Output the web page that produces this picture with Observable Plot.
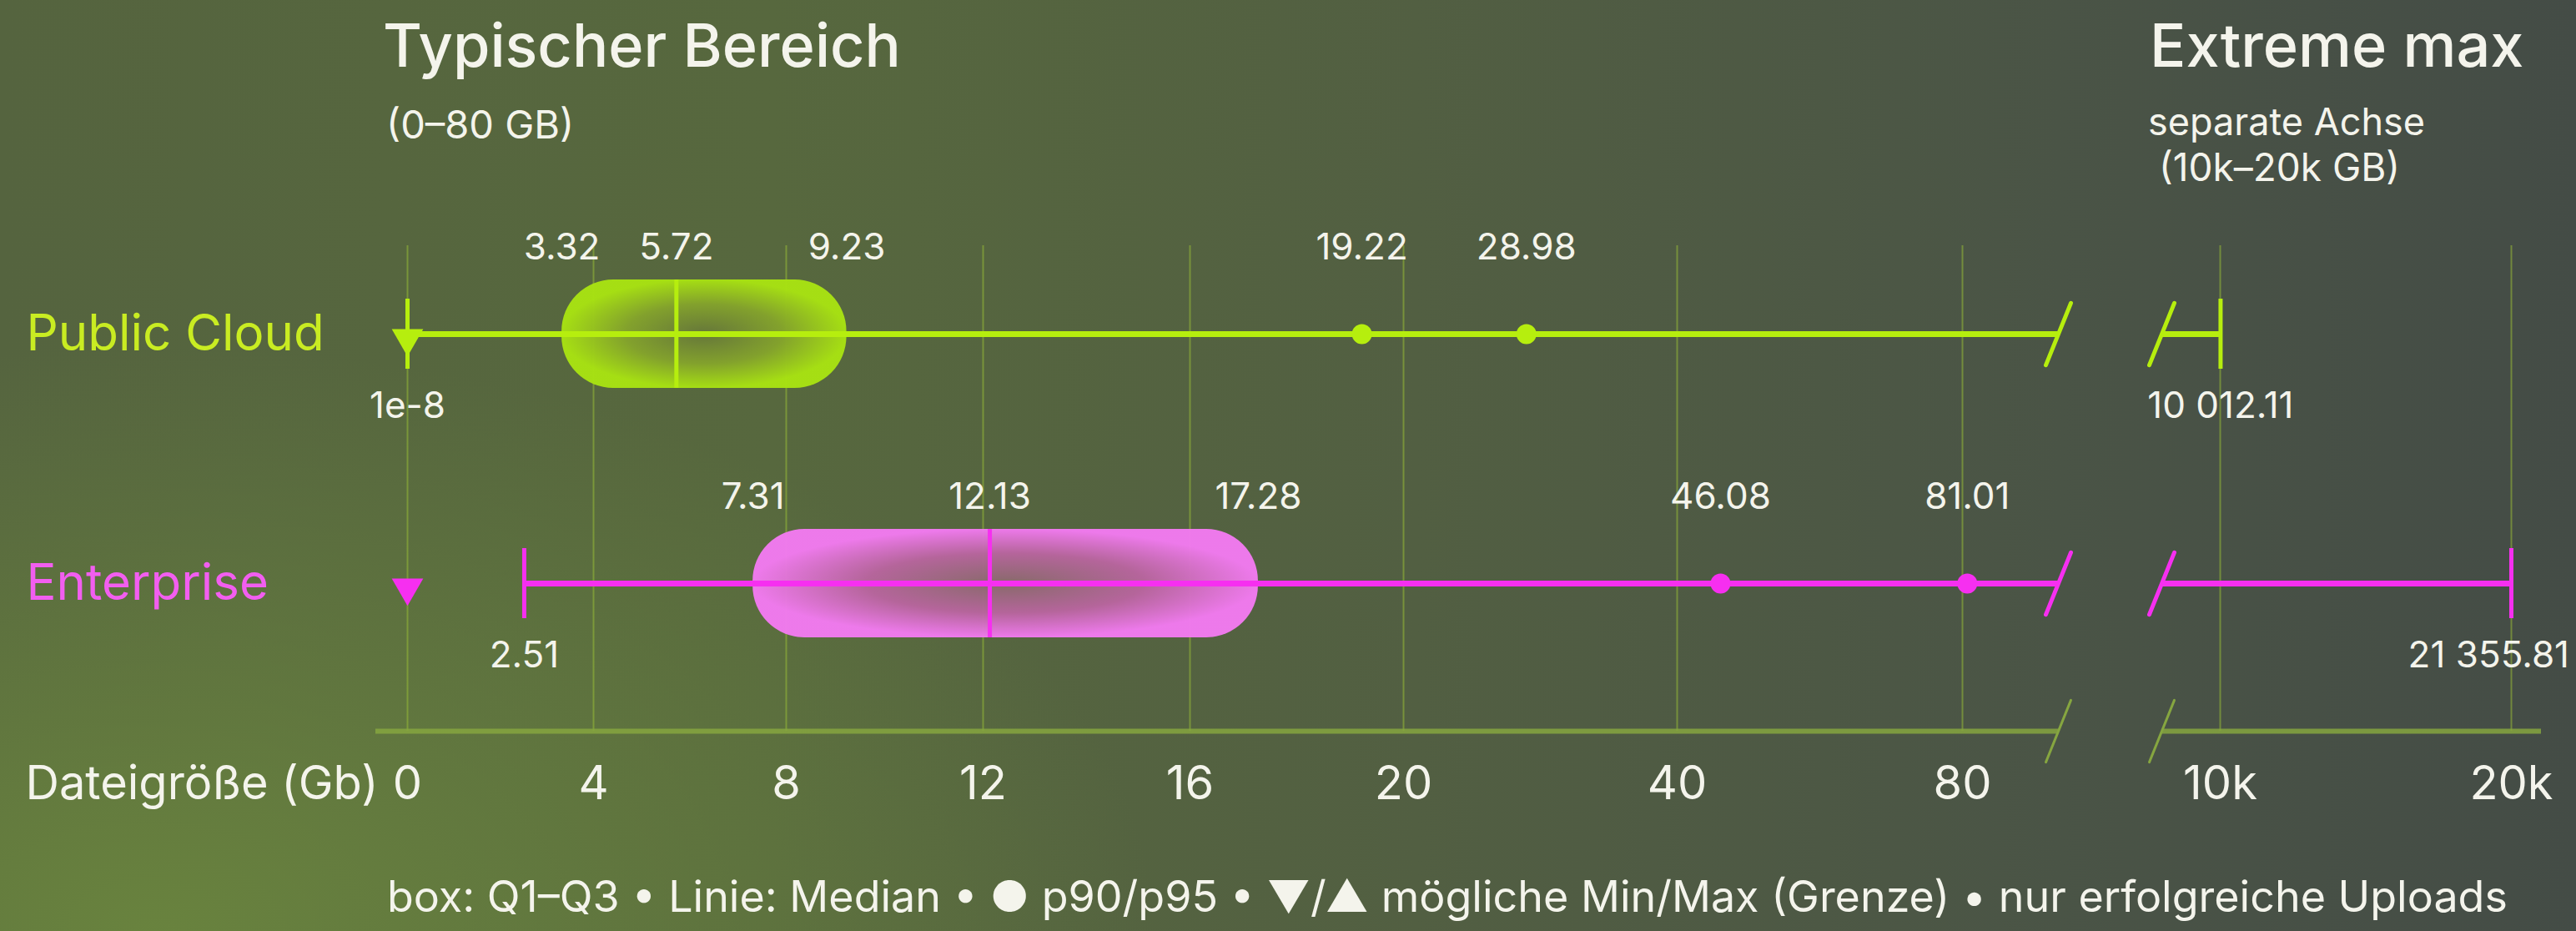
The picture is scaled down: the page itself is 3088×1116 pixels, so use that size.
<!DOCTYPE html>
<html>
<head>
<meta charset="utf-8">
<script src="https://cdn.jsdelivr.net/npm/d3@7"></script>
<script src="https://cdn.jsdelivr.net/npm/@observablehq/plot@0.6"></script>
<style>
  html, body { margin: 0; padding: 0; width: 3088px; height: 1116px; overflow: hidden; }
  #wrap {
    position: relative; width: 3088px; height: 1116px; overflow: hidden;
    font-family: Inter, "Noto Sans", sans-serif; color: #f4f4ec;
    background:
      radial-gradient(ellipse 1200px 700px at 6% 100%, rgba(108,136,62,0.85) 0%, rgba(108,136,62,0) 100%),
      linear-gradient(90deg, #55643f 0%, #57683e 30%, #525f42 55%, #4a5446 80%, #444c46 100%);
  }
  #chart { position: absolute; left: 0; top: 0; }
  .t { position: absolute; white-space: pre; line-height: 1; }
</style>
</head>
<body>
<div id="wrap">
  <div id="chart"></div>
  <div class="t" id="title1" style="left:459px; font-size:72px; font-weight:500;">Typischer Bereich</div>
  <div class="t" id="sub1" style="left:463px; font-size:47px;">(0–80 GB)</div>
  <div class="t" id="title2" style="left:2577px; font-size:72px; font-weight:500;">Extreme max</div>
  <div class="t" id="sub2" style="left:2575px; font-size:45px;">separate Achse</div>
  <div class="t" id="sub3" style="left:2575px; font-size:46px;"> (10k–20k GB)</div>
  <div class="t" id="legend" style="left:464px; font-size:52px;">box: Q1–Q3 • Linie: Median • ● p90/p95 • ▼/▲ mögliche Min/Max (Grenze) • nur erfolgreiche Uploads</div>
</div>
<script>
// ---------------- data ----------------
const rows = ["Public Cloud", "Enterprise"];
const minValues = [1e-8, 2.51];
const q1Values = [3.32, 7.31];
const medianValues = [5.72, 12.13];
const q3Values = [9.23, 17.28];
const p90Values = [19.22, 46.08];
const p95Values = [28.98, 81.01];
const maxValues = [10012.11, 21355.81];
const boundMinValues = [0, 0];           // ▼ mögliche Min (Grenze)
const tickValues = [0, 4, 8, 12, 16, 20, 40, 80, 10000, 20000];
const tickLabels = ["0", "4", "8", "12", "16", "20", "40", "80", "10k", "20k"];
const axisBreak = [100, 9000];           // gap between typical range and extreme axis

// ---------------- styles ----------------
const lineColor = ["#b6ee0e", "#f62ff0"];
const labelColor = ["#c9ec22", "#f25ef0"];
const boxFill = ["url(#boxGradPC)", "url(#boxGradEnt)"];
const textColor = "#f4f4ec";
const axisColor = "#86a640";

function placeBaseline(id, baseline) {
  const el = document.getElementById(id);
  const fs = parseFloat(el.style.fontSize);
  el.style.top = (baseline - 0.863 * fs) + "px";
}
placeBaseline("title1", 80);
placeBaseline("sub1", 166);
placeBaseline("title2", 80);
placeBaseline("sub2", 162);
placeBaseline("sub3", 217);
placeBaseline("legend", 1094);

// ---------------- derived tables ----------------
const stats = rows.map((row, i) => ({
  row, i,
  min: minValues[i], q1: q1Values[i], median: medianValues[i], q3: q3Values[i],
  p90: p90Values[i], p95: p95Values[i], max: maxValues[i], bound: boundMinValues[i]
}));
const segments = stats.flatMap(d => [
  {row: d.row, i: d.i, x1: d.min, x2: axisBreak[0]},
  {row: d.row, i: d.i, x1: axisBreak[1], x2: d.max}
]);
const caps = stats.flatMap(d => [{row: d.row, i: d.i, v: d.min}, {row: d.row, i: d.i, v: d.max}]);
const pDots = stats.flatMap(d => [{row: d.row, i: d.i, v: d.p90}, {row: d.row, i: d.i, v: d.p95}]);
const rowBreaks = stats.flatMap(d => axisBreak.map(b => ({row: d.row, i: d.i, v: b})));
const labelsAbove = stats.flatMap(d => ["q1", "median", "q3", "p90", "p95"].map(k => ({row: d.row, v: d[k]})));
const labelsBelow = stats.flatMap(d => [{row: d.row, v: d.min}, {row: d.row, v: d.max}]);

const bigFmt = d3.formatLocale({decimal: ".", thousands: " ", grouping: [3], currency: ["", ""]}).format(",.2f");
function fmt(v) {
  if (v !== 0 && Math.abs(v) < 1e-4) return d3.format(".0e")(v);
  if (Math.abs(v) >= 1000) return bigFmt(v);
  return d3.format(".2f")(v);
}

const lastRow = rows[rows.length - 1];
const xFirst = tickValues[0], xLast = tickValues[tickValues.length - 1];

const svg = Plot.plot({
  width: 3088,
  height: 1116,
  marginLeft: 450,
  marginRight: 43,
  marginTop: 294,
  marginBottom: 240,
  style: {background: "transparent", fontFamily: "Inter, 'Noto Sans', sans-serif", color: textColor, overflow: "visible"},
  x: {
    type: "linear",
    domain: [0, 4, 8, 12, 16, 20, 40, 80, axisBreak[0], axisBreak[1], 10000, 20000],
    range: [488, 711, 942, 1178, 1426, 1682, 2010, 2352, 2467, 2591, 2661, 3010],
    clamp: true,
    axis: null
  },
  y: {type: "band", domain: rows, range: [400, 699], paddingInner: 1, paddingOuter: 0, axis: null},
  color: {type: "identity"},
  marks: [
    Plot.ruleX(tickValues, {x: d => d, stroke: "#98bb36", strokeOpacity: 0.55, strokeWidth: 2}),
    // axis baseline with break
    Plot.ruleY([lastRow], {y: d => d, x1: () => xFirst, x2: () => axisBreak[0], insetLeft: -38, dy: 177, stroke: axisColor, strokeOpacity: 0.85, strokeWidth: 6}),
    Plot.ruleY([lastRow], {y: d => d, x1: () => axisBreak[1], x2: () => xLast, insetRight: -36, dy: 177, stroke: axisColor, strokeOpacity: 0.85, strokeWidth: 6}),
    Plot.vector(axisBreak, {x: d => d, y: () => lastRow, dy: 177, length: 80, rotate: 22, anchor: "middle", r: 0, stroke: axisColor, strokeWidth: 3}),
    // boxes
    Plot.barX(stats, {x1: "q1", x2: "q3", y: "row", insetTop: -65, insetBottom: -65, rx: 62, fill: d => boxFill[d.i], fillOpacity: 0.97}),
    // whiskers
    Plot.ruleY(segments, {y: "row", x1: "x1", x2: "x2", stroke: d => lineColor[d.i], strokeWidth: 7}),
    // medians
    Plot.tickX(stats, {x: "median", y: "row", insetTop: -65, insetBottom: -65, stroke: d => lineColor[d.i], strokeWidth: 5}),
    // min / max caps
    Plot.tickX(caps, {x: "v", y: "row", insetTop: -42, insetBottom: -42, stroke: d => lineColor[d.i], strokeWidth: 5}),
    // p90 / p95
    Plot.dot(pDots, {x: "v", y: "row", r: 12, fill: d => lineColor[d.i], stroke: "none"}),
    // possible minimum (boundary)
    Plot.dot(stats, {x: "bound", y: "row", symbol: "triangle", rotate: 180, r: 14, dy: 5, fill: d => lineColor[d.i], stroke: "none"}),
    // break slashes on the rows
    Plot.vector(rowBreaks, {x: "v", y: "row", length: 80, rotate: 22, anchor: "middle", r: 0, stroke: d => lineColor[d.i], strokeWidth: 5}),
    // value labels
    Plot.text(labelsAbove, {x: "v", y: "row", text: d => fmt(d.v), dy: -104, fontSize: 44, fill: textColor}),
    Plot.text(labelsBelow, {x: "v", y: "row", text: d => fmt(d.v), dy: 86, fontSize: 44, fill: textColor}),
    // row labels
    Plot.text(stats, {y: "row", text: "row", frameAnchor: "left", dx: -419, textAnchor: "start", fontSize: 60, fill: d => labelColor[d.i]}),
    // x tick labels
    Plot.text(tickValues, {x: d => d, text: d => tickLabels[tickValues.indexOf(d)], frameAnchor: "bottom", dy: 81, fontSize: 56, fill: textColor}),
    // axis title
    Plot.text(["Dateigröße (Gb)"], {frameAnchor: "bottom-left", dx: -420, dy: 81, textAnchor: "start", fontSize: 56, fill: textColor})
  ]
});

const defs = d3.select(svg).insert("defs", ":first-child");
function grad(id, inner, mid, outer) {
  const g = defs.append("radialGradient").attr("id", id).attr("cx", "50%").attr("cy", "50%").attr("r", "50%");
  g.append("stop").attr("offset", "0%").attr("stop-color", inner);
  g.append("stop").attr("offset", "55%").attr("stop-color", mid);
  g.append("stop").attr("offset", "100%").attr("stop-color", outer);
}
grad("boxGradPC", "#66773a", "#84a32c", "#a8e212");
grad("boxGradEnt", "#8a6a6c", "#b8659e", "#f27af0");

document.getElementById("chart").appendChild(svg);

const svgRect = svg.getBoundingClientRect();
svg.querySelectorAll("text").forEach(t => {
  const r = t.getBoundingClientRect();
  if (r.right > svgRect.right - 8) t.setAttribute("dx", -(r.right - (svgRect.right - 8)));
});
</script>
</body>
</html>
